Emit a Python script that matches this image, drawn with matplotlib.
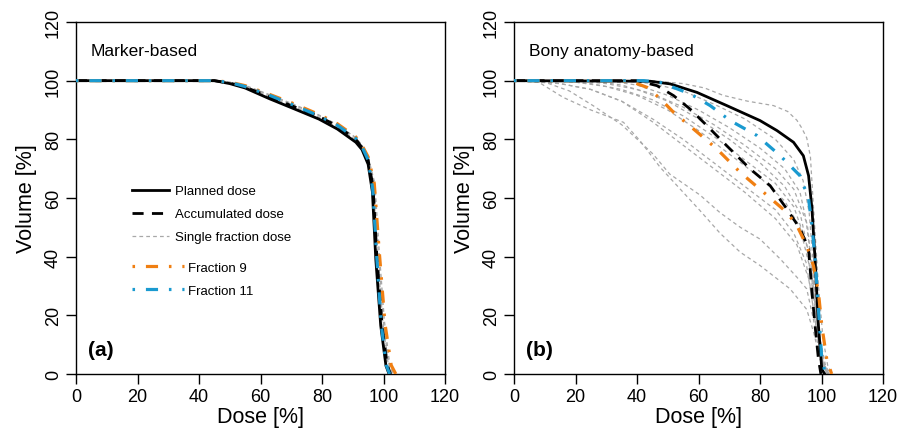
import matplotlib
matplotlib.use("Agg")
import matplotlib.pyplot as plt
from matplotlib import font_manager

names = {f.name for f in font_manager.fontManager.ttflist}
NARROW = "Liberation Sans Narrow" if "Liberation Sans Narrow" in names else "Liberation Sans"
REG = "Liberation Sans"
plt.rcParams['font.family'] = [REG, 'DejaVu Sans']

# ---------------- data: panel (a) Marker-based ----------------
planned_a_x = [0, 45, 50, 55, 63, 70, 79, 85, 91, 93, 95, 96.4, 97.5, 99.1, 100.8, 101.8]
planned_a_y = [100, 100, 99, 97.5, 93.8, 90.8, 86.9, 83.5, 79, 76.5, 71.5, 62, 39, 16.5, 2.8, 0]
accum_a_x = [0, 45, 50, 55, 63, 70, 79, 85, 91, 93, 95, 96.6, 97.8, 99.5, 101.2, 102.3]
accum_a_y = [100, 100, 99.2, 97.8, 94.5, 91.5, 87.8, 84.5, 80, 77.2, 73, 64, 41, 17, 3, 0]
frac9_a_x = [0, 45, 50, 55, 63, 70, 79, 85, 91, 93, 95, 97, 98.6, 100.5, 102.5, 104]
frac9_a_y = [100, 100, 99.5, 98.3, 95.3, 92.5, 88.5, 85.3, 80.8, 78, 74, 65, 42, 17, 3, 0]
frac11_a_x = [0, 45, 50, 55, 63, 70, 79, 85, 91, 93, 95, 96.5, 97.8, 99.3, 100.9, 102]
frac11_a_y = [100, 100, 99.4, 98, 95, 92, 88, 84.8, 80.3, 77.5, 73, 63, 40, 16.5, 3, 0]
single_a = [
    ([0, 45, 50, 55, 63, 70, 79, 85, 91, 93, 95, 96.6, 97.8, 99.4, 101, 102.2],
     [100, 100, 99.3, 98, 94.5, 91.5, 87.5, 84.2, 79.8, 77, 72.5, 63, 40, 17, 3, 0]),
    ([0, 45, 50, 55, 63, 70, 79, 85, 91, 93, 95, 97, 98.3, 100, 101.8, 103],
     [100, 100, 99.5, 98.4, 95.2, 92.3, 88.3, 85, 80.5, 77.8, 73.5, 64, 41, 17, 3, 0]),
    ([0, 45, 50, 55, 63, 70, 79, 85, 91, 93, 95, 96.8, 98, 99.8, 101.5, 102.6],
     [100, 100, 99.1, 97.6, 94, 91, 87.2, 83.9, 79.5, 76.8, 72.3, 63.5, 41, 17.5, 3.5, 0]),
    ([0, 45, 50, 55, 63, 70, 79, 85, 91, 93, 95, 97.2, 98.6, 100.3, 102, 103.3],
     [100, 100, 99.4, 98.2, 95, 92, 88.1, 84.8, 80.6, 78, 74, 65, 42, 18, 3.5, 0]),
    ([0, 45, 50, 55, 63, 70, 79, 85, 91, 93, 95, 96.5, 97.7, 99.2, 100.8, 101.9],
     [100, 100, 99.2, 97.7, 94.2, 91.2, 87.4, 84, 79.6, 76.8, 72.2, 62.5, 40, 16.8, 3, 0]),
]

# ---------------- data: panel (b) Bony anatomy-based ----------------
planned_b_x = [0, 44.3, 50.8, 59.5, 69.2, 80, 85.5, 90.9, 94.1, 95.8, 96.9, 97.9, 99, 100.1, 101]
planned_b_y = [100, 99.8, 98.9, 96, 91.5, 86.4, 83, 79, 74.4, 67.6, 56.3, 39.2, 16.5, 1.7, 0]
accum_b_x = [0, 40, 46.5, 51.9, 57.3, 62.7, 69.2, 76.8, 83.3, 88.7, 93.1, 95.8, 96.9, 97.9, 99, 99.8]
accum_b_y = [100, 100, 98.3, 94.9, 90.3, 84.7, 77.8, 69.9, 64.2, 56.3, 49.4, 42.6, 27.9, 16.5, 5.1, 0]
frac9_b_x = [0, 35, 38.9, 43.3, 47.6, 51.9, 58.4, 66, 73.6, 81.1, 88.7, 92, 95.2, 97.4, 99, 100.1, 101.7, 103.3]
frac9_b_y = [100, 100, 99.4, 97.7, 93.8, 89.2, 83.5, 76.7, 68.7, 62, 55.1, 50.6, 43.7, 36.9, 27.9, 16.5, 5.1, 0]
frac11_b_x = [0, 42.2, 47.6, 57.3, 63.8, 70.3, 79, 86.6, 93, 95.8, 96.9, 97.9, 99, 100.1, 101.2, 102]
frac11_b_y = [100, 100, 99.4, 95.5, 91.5, 86.4, 81.3, 74.4, 67.6, 59.7, 50.6, 39.2, 22.2, 5.1, 0.5, 0]
single_b = [
    ([0, 45, 55, 62, 68, 76, 84.4, 89, 92, 93.5, 95.2, 96.4, 97.5, 99, 100.5, 102, 103.5],
     [100, 100, 99, 97.5, 95, 93, 91.5, 89.5, 86.5, 84, 80.5, 74, 55, 30, 12, 3, 0]),
    ([0, 35, 45, 55, 65, 75, 85, 91, 94, 96, 97.5, 99, 100.5, 102],
     [100, 100, 99, 96.5, 92, 87, 80, 73, 66, 55, 35, 15, 3, 0]),
    ([0, 30, 40, 50, 60, 70, 80, 88, 93, 95.5, 97.5, 99, 101, 102.5],
     [100, 100, 98.5, 95, 90, 84, 77, 70, 62, 50, 30, 12, 2, 0]),
    ([0, 25, 35, 45, 55, 65, 75, 85, 91, 95, 97.5, 99.5, 101.5, 103],
     [100, 100, 98.5, 95.5, 91, 85, 78, 70, 63, 52, 32, 12, 2, 0]),
    ([0, 20, 30, 40, 50, 60, 70, 80, 88, 93, 96.5, 98.5, 100.5, 102.5],
     [100, 100, 99, 97, 93, 87, 80, 72, 64, 55, 38, 18, 4, 0]),
    ([0, 15, 25, 35, 45, 55, 65, 75, 85, 91, 95, 98, 100, 102],
     [100, 100, 99, 97, 93.5, 88, 81, 73, 65, 57, 45, 22, 5, 0]),
    ([0, 10, 20, 30, 40, 50, 60, 70, 80, 88, 93, 96.5, 99, 101, 103],
     [100, 100, 99.5, 98, 95, 90, 83, 75, 67, 59, 50, 35, 15, 3, 0]),
    ([0, 5, 15, 25, 35, 45, 55, 65, 75, 85, 91, 95, 98, 100, 102],
     [100, 100, 99, 97, 93, 87, 80, 72, 64, 56, 48, 38, 18, 4, 0]),
    ([0, 15, 25, 35, 45, 55, 65, 75, 85, 92, 96, 98.5, 100.5, 102.5],
     [100, 99, 97, 93, 86, 78, 70, 62, 53, 44, 32, 14, 3, 0]),
    ([0, 10, 18, 25.7, 35, 45.2, 50.6, 60.5, 67, 73.6, 80, 86.6, 92, 95.2, 97.5, 99.5, 101.5],
     [100, 99.5, 96.5, 91.5, 85, 75, 68.2, 61, 55, 50, 46, 39.2, 33, 29, 18, 6, 0]),
    ([0, 8, 16, 25, 35.6, 41, 47.5, 54, 60.5, 67, 73.6, 80, 89.8, 95.2, 97.5, 99.5, 101.5],
     [100, 99.5, 94.3, 90, 85.8, 79.5, 70.5, 63.1, 55.7, 48, 41.5, 37, 29, 22, 14, 5, 0]),
]

ticks = [0, 20, 40, 60, 80, 100, 120]
panel_titles = ["Marker-based", "Bony anatomy-based"]
panel_tags = ["(a)", "(b)"]
legend_main = ["Planned dose", "Accumulated dose", "Single fraction dose"]
legend_frac = ["Fraction 9", "Fraction 11"]

ORANGE = "#f07f12"
BLUE = "#1a9ad0"
GRAY = "#a8a8a8"
DASHDOT = (0, (0.8, 3.4, 3.8, 3.4))

fig = plt.figure(figsize=(9.11, 4.35), dpi=100)
axes = [fig.add_axes([76/911, 60/435, 369/911, 352/435]),
        fig.add_axes([514/911, 60/435, 369/911, 352/435])]

panels = [
    (planned_a_x, planned_a_y, accum_a_x, accum_a_y, frac9_a_x, frac9_a_y, frac11_a_x, frac11_a_y, single_a),
    (planned_b_x, planned_b_y, accum_b_x, accum_b_y, frac9_b_x, frac9_b_y, frac11_b_x, frac11_b_y, single_b),
]

for i, (ax, p) in enumerate(zip(axes, panels)):
    px, py, ax_, ay, f9x, f9y, f11x, f11y, singles = p
    hs = None
    for sx, sy in singles:
        hs, = ax.plot(sx, sy, color=GRAY, lw=0.9, linestyle=(0, (3, 2.5)), zorder=2)
    hp, = ax.plot(px, py, color="black", lw=2.0, zorder=4)
    ha, = ax.plot(ax_, ay, color="black", lw=2.0, linestyle=(0, (4, 3)), zorder=4)
    h9, = ax.plot(f9x, f9y, color=ORANGE, lw=2.3, linestyle=DASHDOT, zorder=5)
    h11, = ax.plot(f11x, f11y, color=BLUE, lw=2.3, linestyle=DASHDOT, zorder=6)

    ax.set_xlim(0, 120)
    ax.set_ylim(0, 120)
    ax.set_xticks(ticks)
    ax.set_yticks(ticks)
    ax.set_xticklabels([str(t) for t in ticks], fontfamily=NARROW, fontsize=13)
    ax.set_yticklabels([str(t) for t in ticks], fontfamily=NARROW, fontsize=13,
                       rotation=90, va="center")
    ax.tick_params(direction="out", length=7, width=1, pad=3, colors="black")
    for s in ax.spines.values():
        s.set_linewidth(1.0)
    ax.set_xlabel("Dose [%]", fontfamily=NARROW, fontsize=15.5)
    ax.xaxis.set_label_coords(0.5, -0.092)
    ax.set_ylabel("Volume [%]", fontfamily=NARROW, fontsize=15.5)
    ax.yaxis.set_label_coords(-0.106, 0.5)

    ax.text(4.9, 110.3, panel_titles[i], fontsize=12.5, va="center", ha="left")
    ax.text(3.9, 8.2, panel_tags[i], fontsize=15, fontweight="bold", va="center", ha="left")

    if i == 0:
        leg1 = ax.legend([hp, ha, hs], legend_main, loc="center left",
                         bbox_to_anchor=(18.3, 54.5), bbox_transform=ax.transData,
                         frameon=False, fontsize=9.5, handlelength=2.75, handletextpad=0.5,
                         labelspacing=0.82, borderpad=0, borderaxespad=0)
        ax.add_artist(leg1)
        ax.legend([h9, h11], legend_frac, loc="center left",
                  bbox_to_anchor=(18.3, 32.4), bbox_transform=ax.transData,
                  frameon=False, fontsize=9.5, handlelength=3.9, handletextpad=0.3,
                  labelspacing=0.82, borderpad=0, borderaxespad=0)

fig.savefig("out.png", dpi=100)
